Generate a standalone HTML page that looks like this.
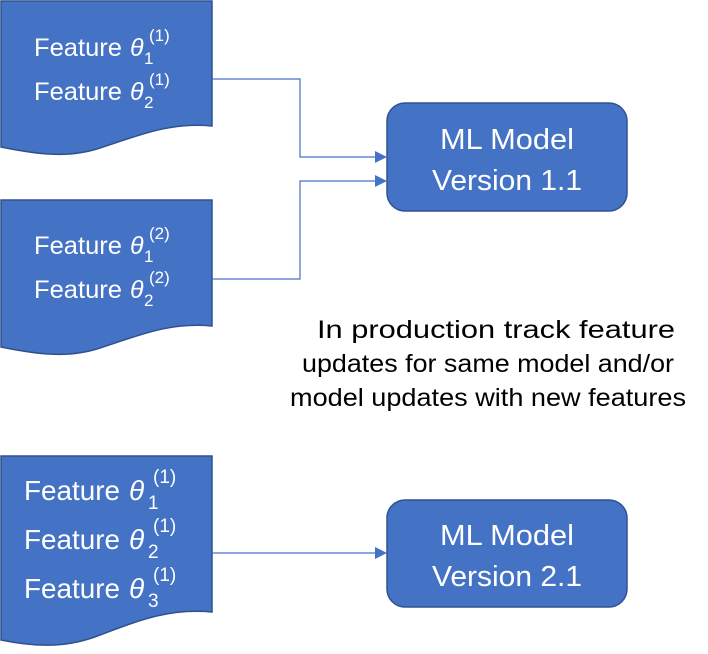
<!DOCTYPE html>
<html><head><meta charset="utf-8"><style>
body{margin:0;background:#fff;}
svg text{font-family:"Liberation Sans",sans-serif;}
</style></head><body>
<svg width="708" height="649" viewBox="0 0 708 649" xmlns="http://www.w3.org/2000/svg">
<g fill="#4472c4" stroke="#2f528f" stroke-width="1.5">
<path d="M1,1 H212 V126 C170,122 140,135 100,148 C70,158 40,155 1,147 Z"/>
<path d="M1,200 H212 V326 C170,322 140,335 100,348 C70,358 40,355 1,347 Z"/>
<path d="M1,456 H212 V612 C170,608 140,620 100,635 C70,647 40,648 1,640 Z"/>
<rect x="387" y="103" width="240" height="108" rx="18"/>
<rect x="387" y="500" width="240" height="107" rx="18"/>
</g>
<g fill="none" stroke="#4472c4" stroke-width="1.2">
<path d="M212,79 H300 V157 H377"/>
<path d="M212,279 H300 V181 H377"/>
<path d="M212,553 H377"/>
</g>
<g fill="#4472c4">
<path d="M387,157 L375,151 L375,163 Z"/>
<path d="M387,181 L375,175 L375,187 Z"/>
<path d="M387,553 L375,547 L375,559 Z"/>
</g>
<g fill="#fff">
<g font-size="25">
<text x="34" y="56" textLength="88" lengthAdjust="spacingAndGlyphs">Feature</text>
<text x="34" y="100" textLength="88" lengthAdjust="spacingAndGlyphs">Feature</text>
<text x="34" y="254" textLength="88" lengthAdjust="spacingAndGlyphs">Feature</text>
<text x="34" y="298" textLength="88" lengthAdjust="spacingAndGlyphs">Feature</text>
</g>
<g font-size="25" font-family="Liberation Serif" font-style="italic">
<text x="130" y="56">θ</text><text x="130" y="100">θ</text>
<text x="130" y="254">θ</text><text x="130" y="298">θ</text>
</g>
<g font-size="17">
<text x="144" y="64">1</text><text x="149" y="41">(1)</text>
<text x="144" y="108">2</text><text x="149" y="85">(1)</text>
<text x="144" y="262">1</text><text x="149" y="239">(2)</text>
<text x="144" y="306">2</text><text x="149" y="283">(2)</text>
</g>
<g font-size="28">
<text x="24" y="500" textLength="96" lengthAdjust="spacingAndGlyphs">Feature</text>
<text x="24" y="549" textLength="96" lengthAdjust="spacingAndGlyphs">Feature</text>
<text x="24" y="598" textLength="96" lengthAdjust="spacingAndGlyphs">Feature</text>
</g>
<g font-size="28" font-family="Liberation Serif" font-style="italic">
<text x="129" y="500">θ</text><text x="129" y="549">θ</text><text x="129" y="598">θ</text>
</g>
<g font-size="19">
<text x="148" y="509">1</text><text x="153" y="483">(1)</text>
<text x="148" y="558">2</text><text x="153" y="532">(1)</text>
<text x="148" y="607">3</text><text x="153" y="581">(1)</text>
</g>
</g>
<g fill="#fff" font-size="29">
<text x="440" y="149" textLength="134" lengthAdjust="spacingAndGlyphs">ML Model</text>
<text x="432" y="190" textLength="150" lengthAdjust="spacingAndGlyphs">Version 1.1</text>
<text x="440" y="545" textLength="134" lengthAdjust="spacingAndGlyphs">ML Model</text>
<text x="432" y="586" textLength="150" lengthAdjust="spacingAndGlyphs">Version 2.1</text>
</g>
<g fill="#000" font-size="25">
<text x="317" y="338" textLength="358" lengthAdjust="spacingAndGlyphs">In production track feature</text>
<text x="302" y="372" textLength="372" lengthAdjust="spacingAndGlyphs">updates for same model and/or</text>
<text x="290" y="406" textLength="396" lengthAdjust="spacingAndGlyphs">model updates with new features</text>
</g>
</svg>
</body></html>
